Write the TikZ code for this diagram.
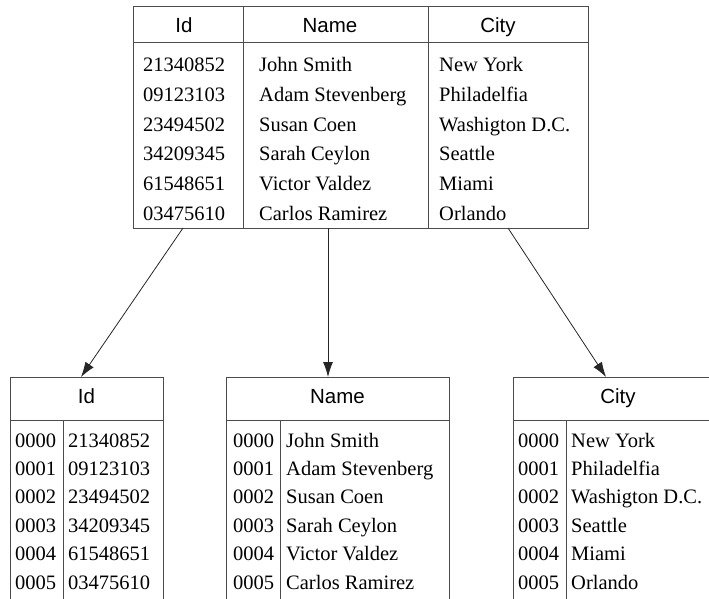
\documentclass[tikz,border=0pt]{standalone}
\usepackage{fontspec}
\setmainfont{Liberation Serif}
\newfontfamily\hdrfont{Liberation Sans}
\usetikzlibrary{arrows.meta}
\begin{document}
\begin{tikzpicture}[x=1pt,y=-1pt,
  rule/.style={draw=black!70,line width=1pt},
  cell/.style={inner sep=0pt,anchor=base west,font=\fontsize{20.5}{24}\selectfont},
  head/.style={inner sep=0pt,anchor=base,font=\hdrfont\fontsize{20.5}{24}\selectfont},
  link/.style={draw=black!85,line width=0.8pt,-{Latex[length=15pt,width=10pt]}}]
\useasboundingbox (0,0) rectangle (709,599);
\clip (0,0) rectangle (709,599);

% ---- source table ----
\draw[rule] (133,7) rectangle (588,228);
\draw[rule] (133,43) -- (588,43);
\draw[rule] (243,7) -- (243,228);
\draw[rule] (428,7) -- (428,228);
\node[head] (hId) at (184,33) {Id};
\node[head] (hName) at (330,33) {Name};
\node[head] (hCity) at (498,33) {City};
\foreach \i/\id/\nm/\ct in {0/21340852/John Smith/New York,
                           1/09123103/Adam Stevenberg/Philadelfia,
                           2/23494502/Susan Coen/Washigton D.C.,
                           3/34209345/Sarah Ceylon/Seattle,
                           4/61548651/Victor Valdez/Miami,
                           5/03475610/Carlos Ramirez/Orlando}{
  \node[cell] (sid\i) at (143,72+29.6*\i) {\id};
  \node[cell] (snm\i) at (259,72+29.6*\i) {\nm};
  \node[cell] (sct\i) at (439,72+29.6*\i) {\ct};
}

% ---- column tables ----
\draw[rule] (10,640) -- (10,377) -- (163,377) -- (163,640);
\draw[rule] (10,420) -- (163,420);
\draw[rule] (63,420) -- (63,640);
\node[head] (cId) at (86.5,403) {Id};

\draw[rule] (226,640) -- (226,377) -- (449,377) -- (449,640);
\draw[rule] (226,420) -- (449,420);
\draw[rule] (280,420) -- (280,640);
\node[head] (cName) at (337.5,403) {Name};

\draw[rule] (513,640) -- (513,377) -- (730,377) -- (730,640);
\draw[rule] (513,420) -- (730,420);
\draw[rule] (566,420) -- (566,640);
\node[head] (cCity) at (618,403) {City};

\foreach \i/\id/\nm/\ct in {0/21340852/John Smith/New York,
                           1/09123103/Adam Stevenberg/Philadelfia,
                           2/23494502/Susan Coen/Washigton D.C.,
                           3/34209345/Sarah Ceylon/Seattle,
                           4/61548651/Victor Valdez/Miami,
                           5/03475610/Carlos Ramirez/Orlando}{
  \node[cell] (ai\i) at (15,447+28.4*\i) {000\i};
  \node[cell] (av\i) at (68,447+28.4*\i) {\id};
  \node[cell] (bi\i) at (233,447+28.4*\i) {000\i};
  \node[cell] (bv\i) at (286,447+28.4*\i) {\nm};
  \node[cell] (ci\i) at (518,447+28.4*\i) {000\i};
  \node[cell] (cv\i) at (571,447+28.4*\i) {\ct};
}

% ---- connectors ----
\coordinate (fromId) at (183,228);
\coordinate (fromName) at (328,228);
\coordinate (fromCity) at (508,228);
\coordinate (toId) at (81,377);
\coordinate (toName) at (328,377);
\coordinate (toCity) at (606,377);
\draw[link] (fromId) -- (toId);
\draw[link] (fromName) -- (toName);
\draw[link] (fromCity) -- (toCity);
\end{tikzpicture}
\end{document}
